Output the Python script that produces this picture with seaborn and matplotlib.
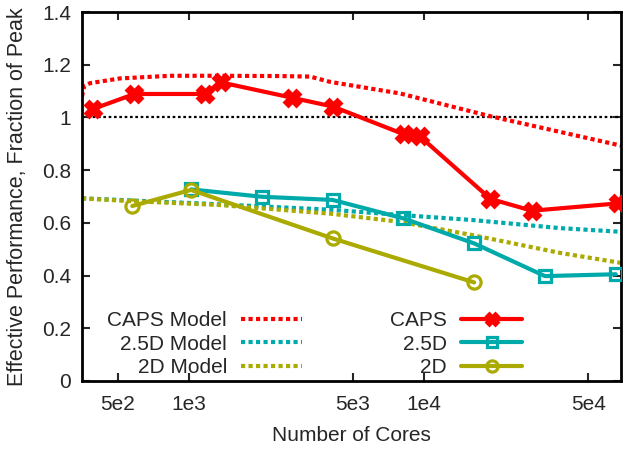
import numpy as np
import pandas as pd
import matplotlib
matplotlib.use('Agg')
import matplotlib.pyplot as plt
import seaborn as sns

# measured data
caps_cores = [392, 588, 1176, 1372, 2744, 4116, 8232, 9604, 19208, 28812, 67228]
caps_eff = [1.032, 1.089, 1.089, 1.133, 1.075, 1.041, 0.936, 0.929, 0.691, 0.646, 0.674]

d25_cores = [1024, 2048, 4096, 8192, 16384, 32768, 65536]
d25_eff = [0.727, 0.699, 0.687, 0.617, 0.522, 0.398, 0.405]

d2_cores = [576, 1024, 4096, 16384]
d2_eff = [0.664, 0.725, 0.541, 0.374]

# model curves
caps_model_cores = [352, 360, 381, 511, 834, 1295, 2446, 3283, 3991, 7917, 19100, 69000]
caps_model_eff = [1.08, 1.12, 1.13, 1.148, 1.158, 1.158, 1.157, 1.155, 1.135, 1.091, 1.005, 0.893]

d25_model_cores = [352, 1101, 3991, 7917, 16000, 38000, 69000]
d25_model_eff = [0.693, 0.674, 0.65, 0.63, 0.611, 0.58, 0.566]

d2_model_cores = [352, 551, 1336, 3991, 7917, 16000, 38000, 69000]
d2_model_eff = [0.693, 0.683, 0.668, 0.635, 0.604, 0.554, 0.486, 0.448]

ytick_vals = [0, 0.2, 0.4, 0.6, 0.8, 1.0, 1.2, 1.4]
ytick_labels = ['0', '0.2', '0.4', '0.6', '0.8', '1', '1.2', '1.4']
xtick_vals = [500, 1000, 5000, 10000, 50000]
xtick_labels = ['5e2', '1e3', '5e3', '1e4', '5e4']

red = '#ff0000'
cyan = '#00aaaa'
olive = '#aaaa00'

sns.set_style('ticks')
plt.rcParams['font.family'] = ['Liberation Sans', 'DejaVu Sans']
plt.rcParams['font.size'] = 15

fig = plt.figure(figsize=(6.23, 4.54), dpi=100)
ax = fig.add_axes([82 / 623, 73 / 454, 539 / 623, 369 / 454])

ax.axhline(1.0, color='black', lw=1.6, dashes=(1.2, 1.2), zorder=1)

dot = (1.0, 0.8)
sns.lineplot(x=caps_model_cores, y=caps_model_eff, ax=ax, color=red, lw=3,
             label='CAPS Model', zorder=2).lines[-1].set_dashes(dot)
sns.lineplot(x=d25_model_cores, y=d25_model_eff, ax=ax, color=cyan, lw=3,
             label='2.5D Model', zorder=2).lines[-1].set_dashes(dot)
sns.lineplot(x=d2_model_cores, y=d2_model_eff, ax=ax, color=olive, lw=3,
             label='2D Model', zorder=2).lines[-1].set_dashes(dot)

sns.lineplot(x=caps_cores, y=caps_eff, ax=ax, color=red, lw=3, marker='X',
             markersize=11, markeredgewidth=2, markeredgecolor=red,
             label='CAPS', zorder=4)
sns.lineplot(x=d25_cores, y=d25_eff, ax=ax, color=cyan, lw=3, marker='s',
             markersize=9, markeredgewidth=2.3, markerfacecolor='none',
             markeredgecolor=cyan, label='2.5D', zorder=3)
sns.lineplot(x=d2_cores, y=d2_eff, ax=ax, color=olive, lw=3, marker='o',
             markersize=9.5, markeredgewidth=2.3, markerfacecolor='none',
             markeredgecolor=olive, label='2D', zorder=3)

ax.set_xscale('log')
ax.set_xlim(352, 69000)
ax.set_ylim(0, 1.4)
ax.set_xticks(xtick_vals)
ax.set_xticklabels(xtick_labels)
ax.minorticks_off()
ax.set_yticks(ytick_vals)
ax.set_yticklabels(ytick_labels)
ax.tick_params(direction='in', top=True, right=True, length=6, width=1.5,
               labelsize=15)
ax.tick_params(axis='x', pad=10)
ax.tick_params(axis='y', pad=8)
for s in ax.spines.values():
    s.set_linewidth(2)
    s.set_color('black')

ax.set_xlabel('Number of Cores', fontsize=15, labelpad=9)
ax.set_ylabel('Effective Performance, Fraction of Peak', fontsize=15.5, labelpad=10)

handles, labels = ax.get_legend_handles_labels()
leg_kw = dict(loc='lower right', frameon=False, markerfirst=False,
              handlelength=2.9, handletextpad=0.7, labelspacing=0.22,
              borderpad=0, borderaxespad=0, fontsize=15, markerscale=0.85)
leg1 = ax.legend(handles[:3], labels[:3], bbox_to_anchor=(0.408, 0.01), **leg_kw)
ax.add_artist(leg1)
ax.legend(handles[3:], labels[3:], bbox_to_anchor=(0.816, 0.01), **leg_kw)

fig.savefig('out.png', dpi=100)
